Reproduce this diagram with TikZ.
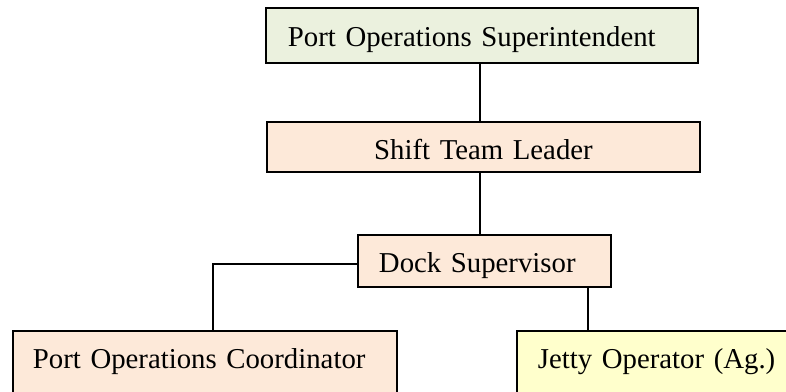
\documentclass[tikz,border=0pt]{standalone}
\usepackage{fontspec}
\setmainfont{Liberation Serif}
\newdimen\px \px=0.41pt
\definecolor{supfill}{RGB}{235,241,222}
\definecolor{peach}{RGB}{253,233,217}
\definecolor{paleyellow}{RGB}{255,255,204}
\tikzset{
  rolebox/.style={draw, line width=0.8pt, inner ysep=0pt, anchor=north west,
    font=\fontsize{11.8}{14}\selectfont, align=left},
  link/.style={line width=0.8pt}
}

\begin{document}
\begin{tikzpicture}[x=0.41pt, y=-0.41pt]
\clip (0,0) rectangle (786,392);

\node[rolebox, fill=supfill, inner xsep=22\px, text width=388\px, text height=39\px, text depth=16\px] (sup) at (265,7) {Port Operations Superintendent};
\node[rolebox, fill=peach, inner xsep=10\px, text width=413\px, text height=38\px, text depth=12\px, align=center] (stl) at (266,121) {Shift Team Leader};
\node[rolebox, fill=peach, inner xsep=21\px, text width=211\px, text height=38\px, text depth=14\px] (dock) at (357,234) {Dock Supervisor};
\node[rolebox, fill=peach, inner xsep=20\px, text width=344\px, text height=38\px, text depth=60\px] (coord) at (12,330) {Port Operations Coordinator};
\node[rolebox, fill=paleyellow, inner xsep=21\px, text width=258\px, text height=38\px, text depth=60\px] (jetty) at (516,330) {Jetty Operator (Ag.)};

% reporting lines
\draw[link] ([xshift=-2\px]sup.south) -- ([xshift=-2\px]sup.south |- stl.north);
\draw[link] ([xshift=-3.5\px]stl.south) -- ([xshift=-3.5\px]stl.south |- dock.north);
\draw[link] ([yshift=-3\px]dock.west) -| ([xshift=8\px]coord.north);
\draw[link] ([xshift=-24\px]dock.south east) -- ([xshift=-24\px]dock.south east |- jetty.north);
\end{tikzpicture}
\end{document}
